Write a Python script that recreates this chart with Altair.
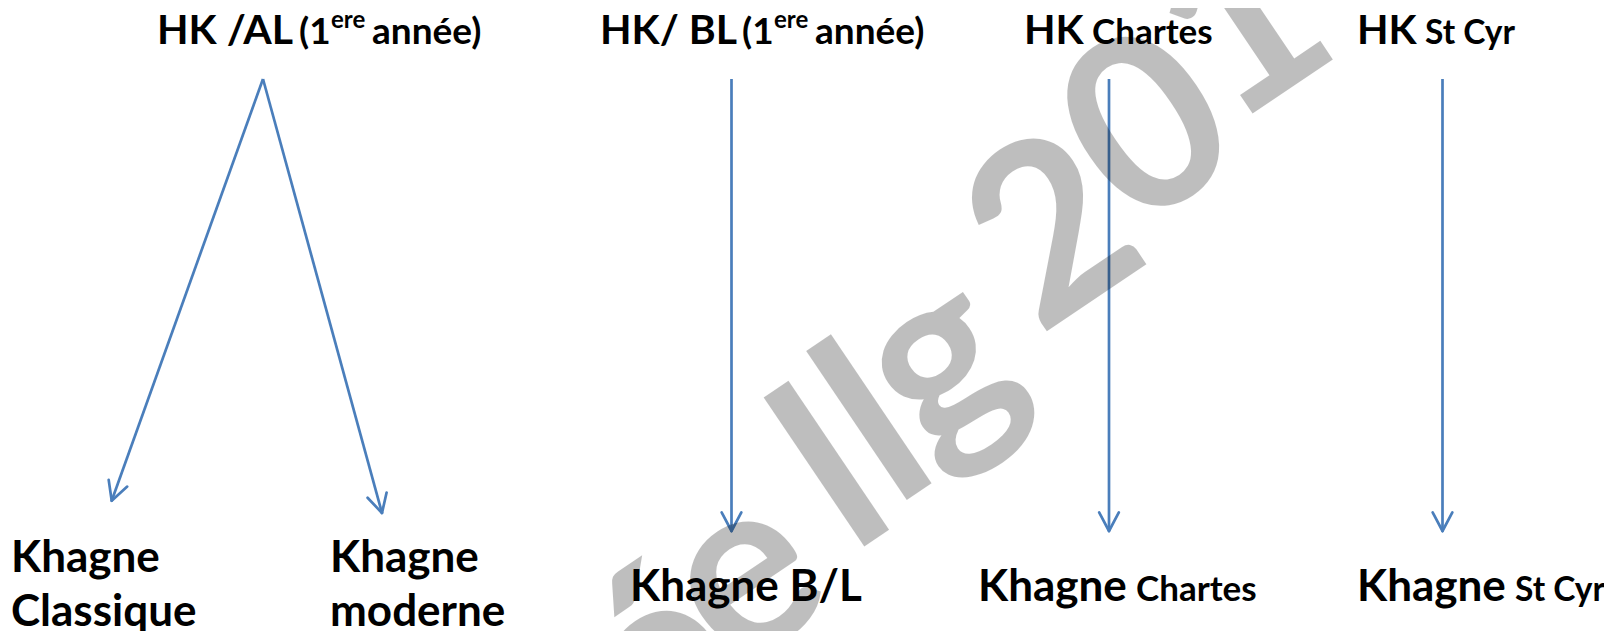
import numpy as np
import pandas as pd
import altair as alt

# ---- node labels (text pieces, left edge x, baseline y, font size) ----
label_text = ["HK /AL", "(1", "ere", "année)",
              "HK/ BL", "(1", "ere", "année)",
              "HK", "Chartes",
              "HK", "St Cyr",
              "Khagne", "Classique",
              "Khagne", "moderne",
              "Khagne B/L",
              "Khagne", "Chartes",
              "Khagne", "St Cyr"]
label_x = [157, 299, 331, 372,
           600, 742, 774, 815,
           1024, 1092,
           1357, 1425,
           11, 11,
           330, 330,
           630,
           978, 1136,
           1357, 1515]
label_y = [44, 44, 28, 44,
           44, 44, 28, 44,
           44, 44,
           44, 44,
           572, 626,
           572, 626,
           601,
           601, 601,
           601, 601]
label_size = [41, 37, 24, 37,
              41, 37, 24, 37,
              41, 35,
              41, 33.5,
              44, 44,
              44, 44,
              44,
              44, 35,
              44, 33.5]

# ---- arrows (start -> tip) ----
edge_x1 = [263, 263, 731.5, 1109, 1442.5]
edge_y1 = [79, 79, 79, 79, 79]
edge_x2 = [111.7, 382, 731.5, 1109, 1442.5]
edge_y2 = [500.7, 513, 531, 531, 531]

# ---- watermark text (drawn glyph by glyph along a slanted baseline) ----
wm_string = "Lycée llg 2013"
wm_anchor_x, wm_anchor_y = 1050, 349      # baseline point where "2013" starts
WM_SIZE, WM_BASE_DEG, WM_GLYPH_ANGLE = 242, 47.5, 326

labels = pd.DataFrame({"text": label_text, "x": label_x, "y": label_y, "size": label_size})
edges = pd.DataFrame({"x": edge_x1, "y": edge_y1, "x2": edge_x2, "y2": edge_y2})

# arrow-head wings derived from each edge direction
head_len, head_ang = 21.0, np.deg2rad(28)
wx, wy, wx2, wy2 = [], [], [], []
for x1, y1, x2, y2 in zip(edge_x1, edge_y1, edge_x2, edge_y2):
    dx, dy = x1 - x2, y1 - y2
    n = np.hypot(dx, dy)
    ux, uy = dx / n, dy / n
    for s in (1, -1):
        c, sn = np.cos(s * head_ang), np.sin(s * head_ang)
        rx, ry = ux * c - uy * sn, ux * sn + uy * c
        wx.append(x2); wy.append(y2)
        wx2.append(x2 + head_len * rx); wy2.append(y2 + head_len * ry)
wings = pd.DataFrame({"x": wx, "y": wy, "x2": wx2, "y2": wy2})

# glyph advances (em) of a bold humanist sans, used to lay the watermark glyphs out
adv = {"L": 0.50, "y": 0.52, "c": 0.45, "é": 0.50, "e": 0.50, " ": 0.18,
       "l": 0.26, "g": 0.49, "2": 0.58, "0": 0.58, "1": 0.58, "3": 0.58}
chars = list(wm_string)
advs = np.array([adv[ch] for ch in chars])
starts = np.concatenate([[0], np.cumsum(advs)[:-1]])
centers = starts + advs / 2 - starts[wm_string.index("2")]
bx, by = np.cos(np.deg2rad(WM_BASE_DEG)), -np.sin(np.deg2rad(WM_BASE_DEG))
wm = pd.DataFrame({"text": chars,
                   "x": wm_anchor_x + centers * WM_SIZE * bx,
                   "y": wm_anchor_y + centers * WM_SIZE * by})
wm = wm[wm["text"] != " "]

xs = alt.Scale(domain=[8, 1604], nice=False, zero=False)
ys = alt.Scale(domain=[8, 631], nice=False, zero=False, reverse=True)
X = alt.X("x:Q", scale=xs, axis=None)
Y = alt.Y("y:Q", scale=ys, axis=None)

blue = "#4a7ebb"
lines = alt.Chart(edges).mark_rule(color=blue, strokeWidth=2.7).encode(X, Y, x2="x2:Q", y2="y2:Q")
heads = alt.Chart(wings).mark_rule(color=blue, strokeWidth=2.7, strokeCap="round").encode(X, Y, x2="x2:Q", y2="y2:Q")
text = alt.Chart(labels).mark_text(align="left", baseline="alphabetic", font="Lato",
                                   fontWeight="bold", color="black").encode(
    X, Y, text="text:N", size=alt.Size("size:Q", scale=None, legend=None))
water = alt.Chart(wm).mark_text(align="center", baseline="alphabetic", font="Lato", fontWeight="bold",
                                fontSize=WM_SIZE, angle=WM_GLYPH_ANGLE, color="black", opacity=0.25,
                                clip=True).encode(X, Y, text="text:N")

chart = alt.layer(lines, heads, text, water).properties(
    width=1596, height=623, padding=0, autosize=alt.AutoSizeParams(type="none")
).configure_view(stroke=None)

chart.save("out.html", embed_options={"renderer": "svg", "actions": False})
